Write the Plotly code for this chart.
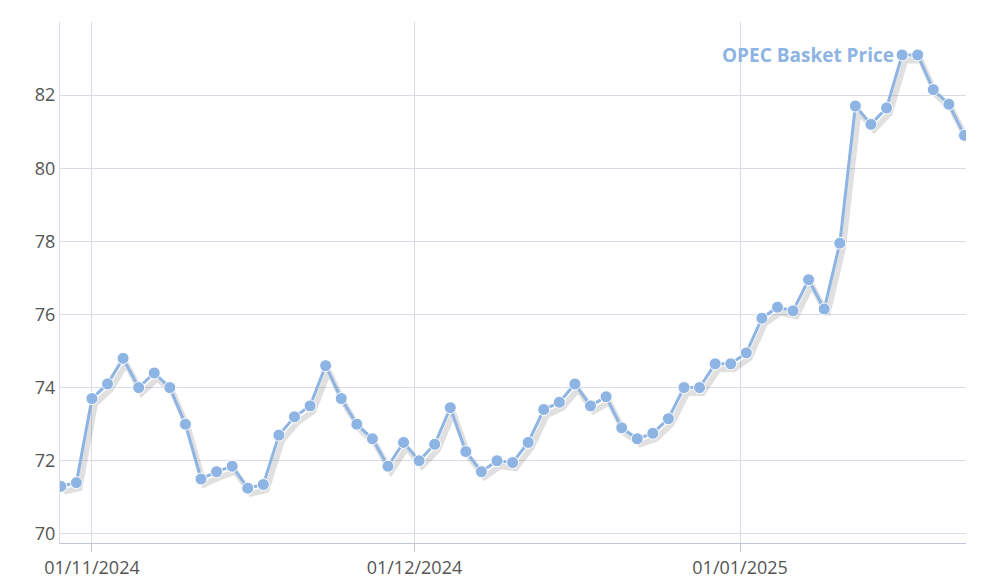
import plotly.graph_objects as go

# OPEC basket price, one point per trading day (evenly spaced)
prices = [71.3, 71.4, 73.7, 74.1, 74.8, 74.0, 74.4, 74.0, 73.0, 71.5,
          71.7, 71.85, 71.25, 71.35, 72.7, 73.2, 73.5, 74.6, 73.7, 73.0,
          72.6, 71.85, 72.5, 72.0, 72.45, 73.45, 72.25, 71.7, 72.0, 71.95,
          72.5, 73.4, 73.6, 74.1, 73.5, 73.75, 72.9, 72.6, 72.75, 73.15,
          74.0, 74.0, 74.65, 74.65, 74.95, 75.9, 76.2, 76.1, 76.95, 76.15,
          77.95, 81.7, 81.2, 81.65, 83.1, 83.1, 82.15, 81.75, 80.9]
idx = list(range(len(prices)))

tick_pos = [2, 22.7, 43.6]
tick_labels = ["01/11/2024", "01/12/2024", "01/01/2025"]

color = "#8db4e3"

fig = go.Figure()
# soft shadow under the line
fig.add_trace(go.Scatter(
    x=[i + 0.2 for i in idx], y=[p - 0.15 for p in prices],
    mode="lines", line=dict(color="rgba(0,0,0,0.12)", width=6),
    hoverinfo="skip", showlegend=False))
fig.add_trace(go.Scatter(
    x=idx, y=prices, mode="lines+markers",
    line=dict(color=color, width=3),
    marker=dict(color=color, size=12, line=dict(color="white", width=1)),
    name="OPEC Basket Price", showlegend=False))

fig.add_annotation(x=idx[54], y=prices[54], text="<b>OPEC Basket Price</b>",
                   showarrow=False, xanchor="right", xshift=-6,
                   font=dict(color=color, size=19, family="Open Sans"))

fig.update_layout(
    width=1000, height=588,
    margin=dict(l=52, r=42, t=14, b=53),
    paper_bgcolor="white", plot_bgcolor="white",
    font=dict(family="Open Sans", size=18, color="#555"),
)
fig.update_xaxes(range=[-0.05, 58.1], tickvals=tick_pos, ticktext=tick_labels,
                 showgrid=True, gridcolor="#d8dce6", gridwidth=1,
                 showline=True, linecolor="#c0c8d8", ticks="outside",
                 ticklen=8, tickcolor="#c0c8d8", zeroline=False)
fig.update_yaxes(range=[69.75, 84.0], tickvals=[70, 72, 74, 76, 78, 80, 82],
                 showgrid=True, gridcolor="#d8dce6", zeroline=False,
                 showline=True, linecolor="#d8dce6", mirror=False)

fig.write_html("out.html")
